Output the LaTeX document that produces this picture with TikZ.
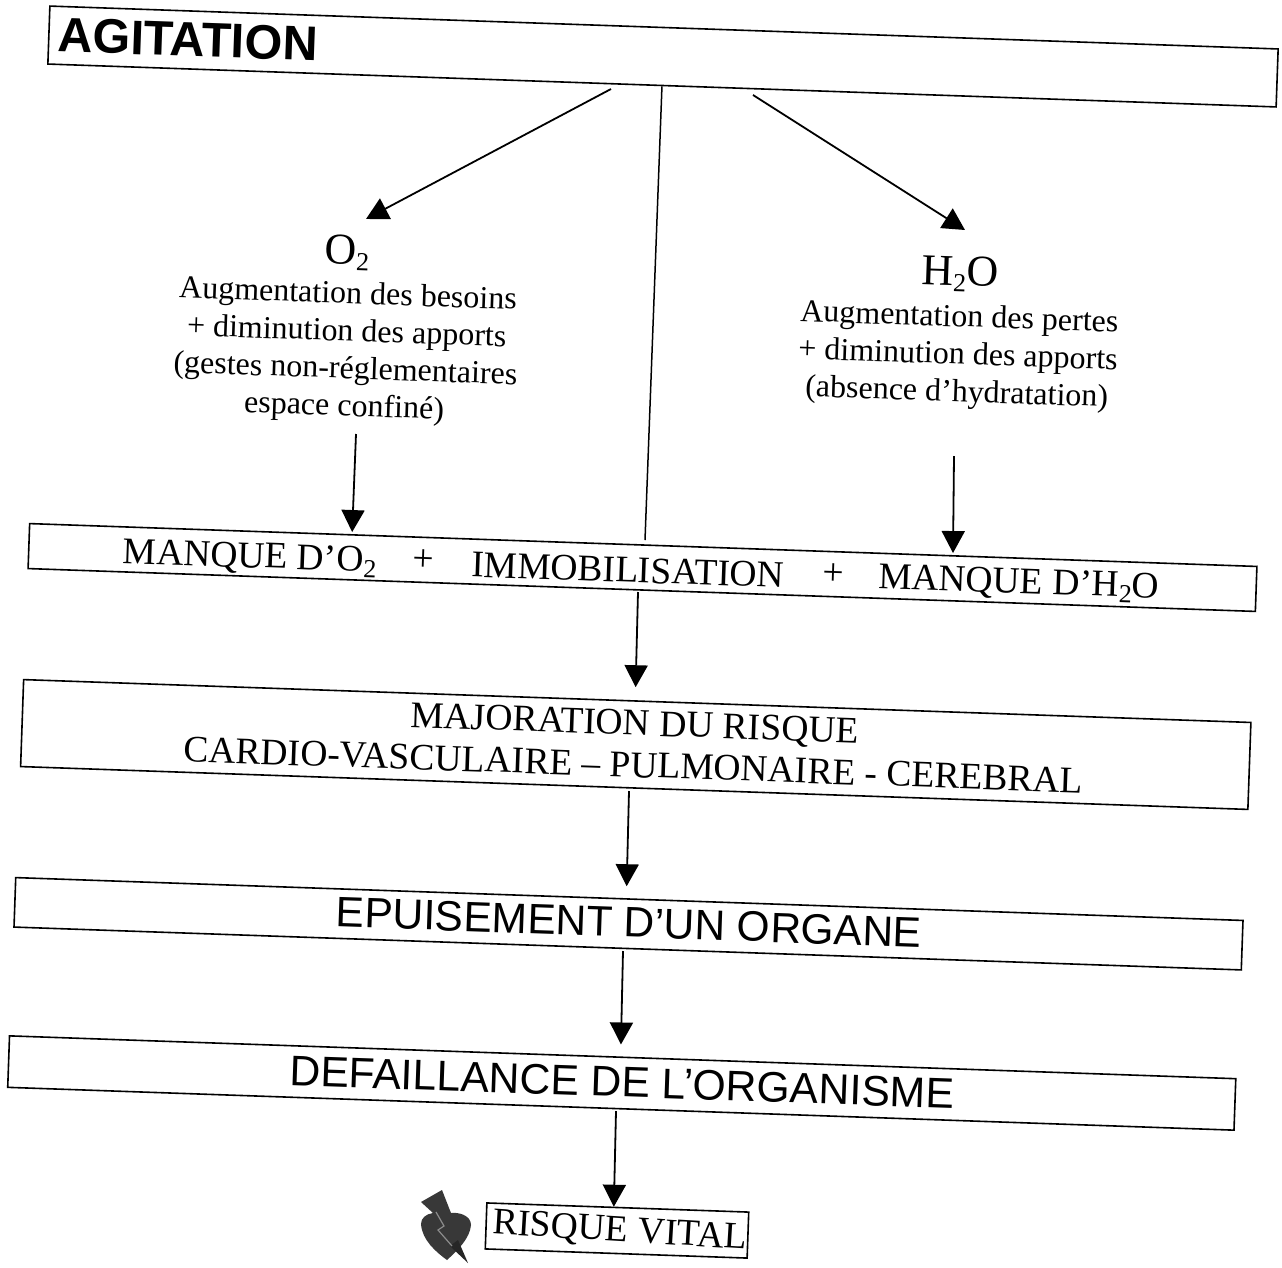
\documentclass[tikz,border=0pt]{standalone}
\usepackage{fontspec}
\setmainfont{Liberation Serif}
\setsansfont{Liberation Sans}
\usetikzlibrary{arrows.meta,calc}
\newcommand{\fs}[1]{\fontsize{#1}{#1}\selectfont}
\newcommand{\sbs}[1]{\raisebox{-6pt}{\fontsize{26}{26}\selectfont #1}}
\tikzset{
  box/.style={draw=black,line width=1.6pt,fill=white,inner sep=0pt,rotate=-2,align=center},
  txt/.style={inner sep=0pt,rotate=-2,align=center},
  lbl/.style={txt,font=\fontsize{32}{37.5}\selectfont},
  capt/.style={txt,font=\fontsize{37.5}{42}\selectfont},
  arr/.style={line width=1.8pt,-{Triangle[length=22pt,width=23pt]}},
  plainline/.style={line width=1.5pt}
}
\begin{document}
\begin{tikzpicture}[x=1pt,y=-1pt]
\useasboundingbox (0,0) rectangle (1282,1267);
\fill[white] (0,0) rectangle (1282,1267);
% boxes
\node[box,minimum width=1229pt,minimum height=58pt] (agit) at (663,56.5) {};
\node[box,minimum width=1228pt,minimum height=45pt] (manque) at (642.5,567.5) {};
\node[box,minimum width=1228pt,minimum height=87pt] (major) at (635.75,744.5) {};
\node[box,minimum width=1228pt,minimum height=49.5pt] (epuis) at (628.5,923.75) {};
\node[box,minimum width=1227pt,minimum height=51.5pt] (defail) at (621.75,1083) {};
\node[box,minimum width=262pt,minimum height=46pt] (vital) at (617,1230.5) {};
% long line passes over the MANQUE box
\coordinate (e0) at (645,540);
\draw[plainline] (agit.south) -- (e0);
% texts
\node[txt,anchor=west,font=\sffamily\bfseries\fs{48.5}] (tagit) at (58,35) {AGITATION};
\node[txt,font=\fs{44}] (o2) at (347,253) {O\sbs{2}};
\node[txt,font=\fs{44}] (h2o) at (960,274) {H\sbs{2}O};
\node[lbl] (lo2) at (346,352) {Augmentation des besoins\\+ diminution des apports\\(gestes non-réglementaires\\espace confiné)};
\node[lbl] (lh2o) at (958,356.5) {Augmentation des pertes\\+ diminution des apports\\(absence d’hydratation)};
\node[capt] (m1) at (250,558) {MANQUE D’O\sbs{2}};
\node[capt] (p1) at (423,560) {+};
\node[capt] (m2) at (628,570) {IMMOBILISATION};
\node[capt] (p2) at (833,574) {+};
\node[capt] (m3) at (1019,584) {MANQUE D’H\sbs{2}O};
\node[capt] (tmajor) at (634,744) {MAJORATION DU RISQUE\\CARDIO-VASCULAIRE – PULMONAIRE - CEREBRAL};
\node[txt,font=\sffamily\fs{42.5}] (tepuis) at (629,922.5) {EPUISEMENT D’UN ORGANE};
\node[txt,font=\sffamily\fs{42.7}] (tdefail) at (622,1082) {DEFAILLANCE DE L’ORGANISME};
\node[txt,rotate=-1.5,font=\fs{37.5}] (tvital) at (620,1232) {RISQUE VITAL};
% arrows
\coordinate (a1) at (611,89);
\coordinate (t1) at (366,219);
\coordinate (a2) at (753,95);
\coordinate (t2) at (965,230);
\coordinate (a3) at (356,434);
\coordinate (a4) at (954,456);
\coordinate (a5) at (638,592);
\coordinate (a6) at (629,791);
\coordinate (a7) at (623,951);
\coordinate (a8) at (616,1111);
\draw[arr] (a1) -- (t1);
\draw[arr] (a2) -- (t2);
\draw[arr,shorten >=2pt] (a3) -- ($(manque.north west)!0.263!(manque.north east)$);
\draw[arr,shorten >=2pt] (a4) -- ($(manque.north west)!0.752!(manque.north east)$);
\draw[arr,shorten >=13pt] (a5) -- ($(major.north)+(-2,0)$);
\draw[arr,shorten >=12pt] (a6) -- ($(epuis.north)+(-3,0)$);
\draw[arr,shorten >=12pt] (a7) -- ($(defail.north)+(-2,0)$);
\draw[arr] (a8) -- ($(vital.north)+(-4,0)$);
% heart with lightning bolt
\fill[black!78] (421,1202) -- (442,1190) -- (451,1213)
  .. controls (458,1212) and (471,1215) .. (471,1225)
  .. controls (470,1238) and (458,1250) .. (447,1260)
  .. controls (436,1252) and (422,1240) .. (421,1224)
  .. controls (421,1218) and (426,1214) .. (433,1213) -- cycle;
\fill[black!85] (458,1240) -- (468,1263) -- (450,1246) -- cycle;
\draw[black!45,line width=1.2pt] (436,1212) -- (444,1226) -- (438,1230) -- (452,1246);
\end{tikzpicture}
\end{document}
